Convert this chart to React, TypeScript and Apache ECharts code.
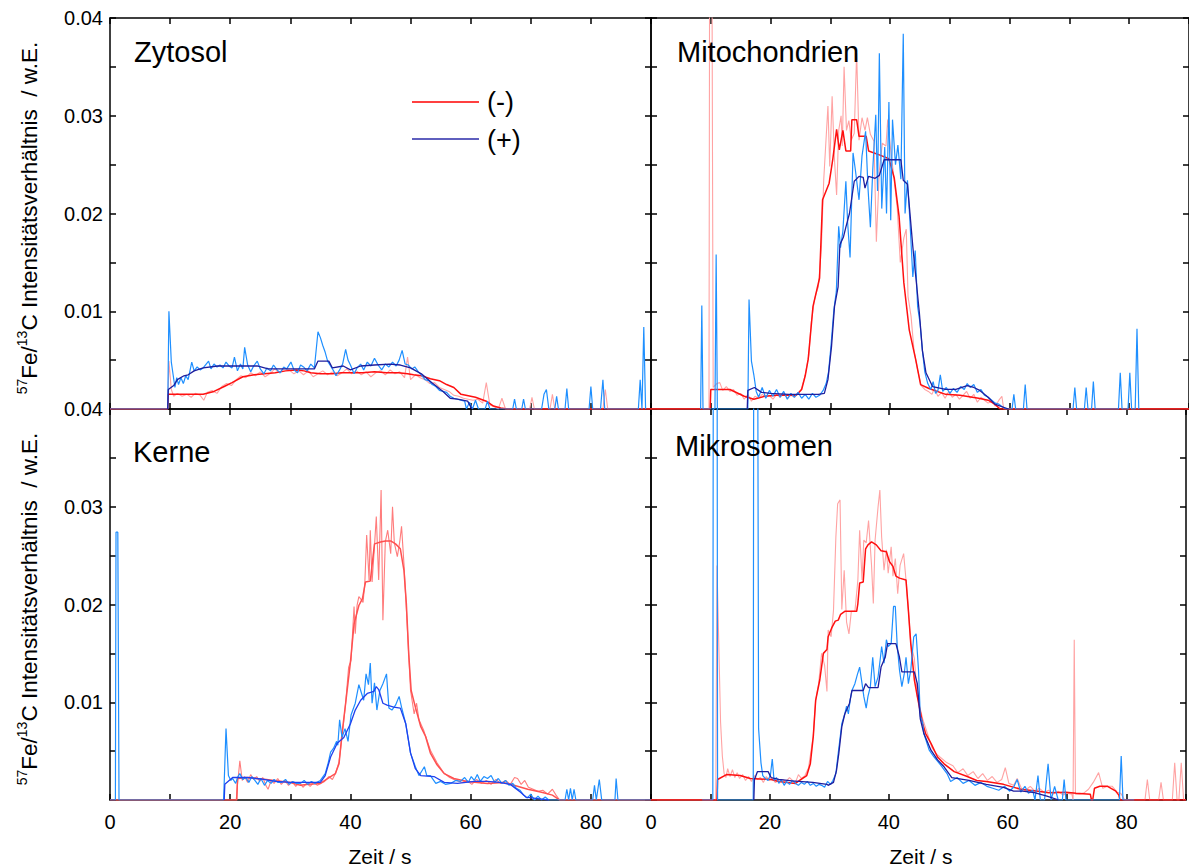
import React, { useEffect, useRef } from 'react';
import * as echarts from 'echarts';

const FONT = '"Liberation Sans", Arial, Helvetica, sans-serif';
// All intensity values below are written in thousandths (x 0.001)
const UNIT = 0.001;

const PANEL_NAMES = ['Zytosol', 'Mitochondrien', 'Kerne', 'Mikrosomen'];
const LEGEND_LABELS = ['(-)', '(+)'];
const X_TITLE = 'Zeit / s';
const X_LABEL_TICKS = [0, 20, 40, 60, 80];
const Y_LABEL_TICKS = [0.01, 0.02, 0.03, 0.04];

// ---------------- Zytosol ----------------
const ZY_MINUS_RAW = [[0,0],[9.6,0],[9.8,4.9],[10.2,2.0],[10.6,1.3],[11.2,1.6],[12,1.3],[12.8,1.5],[13.5,1.2],[14.2,1.6],[15,1.4],[15.6,0.9],[16.2,1.7],[17,1.9],[17.8,1.6],[18.6,2.3],[19.4,2.6],[20.2,2.4],[21,3.0],[21.8,3.4],[22.6,3.2],[23.4,3.7],[24.2,3.4],[25,3.8],[25.8,3.3],[26.6,3.6],[27.4,4.1],[28.2,3.7],[29,4.2],[29.8,4.0],[30.6,3.6],[31.4,3.9],[32.2,3.5],[33,3.9],[33.8,3.3],[34.6,3.6],[35.4,3.9],[36.2,3.5],[37,3.8],[37.8,3.4],[38.6,3.7],[39.4,4.1],[40.2,3.6],[41,3.9],[41.8,3.5],[42.6,3.8],[43.4,3.3],[44.2,3.7],[45,3.9],[45.8,3.5],[46.6,4.0],[47.4,3.6],[48.2,3.8],[49,3.2],[49.5,5.3],[50,3.0],[50.8,3.5],[51.6,3.2],[52.4,3.0],[53.2,2.6],[54,2.7],[54.8,2.2],[55.6,2.0],[56.4,1.8],[57.2,1.4],[58,1.3],[58.8,1.1],[59.6,1.0],[60.4,0.9],[61.2,1.0],[62,0.6],[62.6,2.7],[63.2,0.4],[64,0.2],[64.6,0],[65.2,1.1],[65.8,0],[69.8,0],[70.2,1.2],[70.6,0],[73.2,0],[73.6,1.5],[74,0],[82,0],[82.4,2.0],[82.8,0],[90,0]];
const ZY_MINUS_SMOOTH = [[0,0],[9.6,0],[9.7,1.5],[12,1.5],[15.5,1.5],[17.3,1.8],[19,2.3],[20.3,2.7],[22.1,3.3],[24,3.5],[25.7,3.6],[27.5,3.7],[29.2,3.9],[31,4.0],[32.3,3.9],[33.4,3.7],[35,3.6],[37,3.6],[38.5,3.7],[40,3.7],[42,3.7],[44,3.8],[46,3.7],[48,3.7],[49.5,3.6],[50.5,3.5],[51.8,3.4],[53.3,3.1],[54.8,2.9],[56,2.5],[57.2,2.2],[58.4,1.5],[60.8,1.2],[62.6,0.8],[63.8,0.3],[65,0.1],[66.1,0],[90,0]];
const ZY_PLUS_RAW = [[0,0],[9.6,0],[9.8,10.0],[10.2,4.8],[10.5,3.5],[10.8,2.2],[11.1,3.2],[11.4,2.5],[11.8,3.2],[12.2,2.6],[12.6,3.4],[13.0,3.0],[13.6,4.8],[14.0,3.9],[14.5,4.3],[15.0,4.0],[15.5,4.2],[16.0,4.6],[16.4,4.9],[16.8,4.1],[17.3,4.6],[17.8,4.3],[18.3,4.5],[18.8,4.2],[19.3,4.8],[19.8,4.4],[20.3,4.2],[20.7,5.3],[21.2,3.9],[21.7,4.6],[22.1,4.1],[22.4,6.3],[22.9,4.5],[23.4,3.8],[23.9,4.4],[24.5,4.9],[25,4.1],[25.6,3.6],[26.1,4.2],[26.7,3.9],[27.2,4.5],[27.8,4.0],[28.3,3.7],[28.9,4.3],[29.4,4.1],[30.1,4.8],[30.6,4.0],[31.2,3.7],[31.7,4.5],[32.2,4.3],[32.8,3.9],[33.4,4.6],[34,4.2],[34.6,7.9],[35.0,7.3],[35.4,6.5],[35.8,5.8],[36.2,4.9],[36.7,4.4],[37.2,3.9],[37.6,3.4],[38.2,4.0],[38.7,4.6],[39.2,6.1],[39.6,5.0],[40.0,4.5],[40.6,3.6],[41.1,4.2],[41.7,4.6],[42.2,4.0],[42.8,4.8],[43.4,4.4],[44.0,5.2],[44.6,4.5],[45.2,4.0],[45.8,4.6],[46.4,4.3],[47,4.8],[47.6,4.4],[48.1,5.0],[48.6,6.0],[49.1,4.6],[49.6,4.5],[50.2,4.1],[50.7,4.3],[51.3,3.8],[51.8,3.5],[52.4,3.0],[53,2.9],[53.6,2.5],[54.2,2.3],[54.8,1.9],[55.4,1.8],[56,1.7],[56.6,1.3],[57.2,1.1],[57.8,1.0],[58.4,0.9],[59,0.8],[59.3,0],[59.8,0.7],[60.3,0],[60.8,0.9],[61.3,0],[62.4,0],[62.8,0.8],[63.2,0],[67.0,0],[67.3,1.0],[67.6,0],[68.5,0],[68.8,1.0],[69.1,0],[71.8,0],[72.2,1.5],[72.6,2.0],[73.0,0],[74.0,0],[74.3,1.3],[74.6,0],[75.7,0],[76.0,2.1],[76.3,0],[79.7,0],[80.0,2.3],[80.3,0],[81.6,0],[82.0,3.0],[82.3,0],[87.9,0],[88.2,3.0],[88.5,0],[88.8,8.4],[89.1,0]];
const ZY_PLUS_SMOOTH = [[9.6,0],[9.7,2.0],[10.6,2.4],[11.2,3.0],[12.3,3.4],[13,3.5],[14,3.9],[15.5,4.2],[17.9,4.4],[20,4.4],[24.5,4.4],[26.3,4.1],[30,4.1],[34,4.1],[34.6,4.9],[36.4,4.9],[37,4.2],[38.8,4.4],[40,4.0],[41.7,4.4],[44,4.5],[46.5,4.6],[48.3,4.5],[50,4.2],[51.8,3.6],[53.5,2.7],[55.4,1.8],[56.6,1.1],[57.8,1.0],[59.5,0.8],[60.2,0]];

// ---------------- Mitochondrien ----------------
const MI_MINUS_RAW = [[0,0],[9.7,0],[9.8,45],[10.2,45],[10.4,2.2],[11,2.6],[11.5,2.7],[12,1.9],[12.6,2.3],[13.2,1.8],[13.8,2.0],[14.4,1.4],[15,1.6],[15.6,1.0],[16.2,1.5],[16.8,0.8],[17.4,1.3],[18,1.1],[18.6,1.5],[19.2,1.2],[19.8,1.4],[20.4,1.0],[21,1.5],[21.6,1.2],[22.2,1.6],[22.8,1.1],[23.4,1.4],[24,1.2],[24.6,1.6],[25.2,2.1],[25.8,3.5],[26.4,5.5],[26.8,8.8],[27.3,11.0],[27.6,11.8],[28.0,12.5],[28.5,16.5],[28.9,23.5],[29.6,31.0],[29.9,24.8],[30.3,32.0],[30.7,25.4],[31.05,21.9],[31.4,28.5],[31.8,30.0],[32.0,26.9],[32.3,35.0],[32.7,28.5],[33.1,29.5],[33.5,27.5],[34.0,28.2],[34.4,36.4],[34.8,27.5],[35.3,29.8],[35.8,28.5],[36.2,29.8],[36.7,28.1],[37.3,27.4],[37.7,17.1],[38.2,24.4],[38.7,27.2],[39.3,26.9],[39.6,29.6],[40.1,26.5],[40.6,23.9],[41.2,20.5],[41.7,15.0],[42.3,17.5],[42.7,18.4],[43.0,11.5],[43.5,9.5],[44,6.0],[44.6,4.0],[45.2,2.4],[45.8,2.0],[46.4,1.8],[47,1.5],[47.4,2.1],[48,1.3],[48.6,1.7],[49.2,1.1],[49.8,1.8],[50.4,1.2],[51,1.5],[51.6,1.0],[52.2,1.4],[52.8,1.8],[53.4,1.1],[54,1.5],[54.6,0.7],[55.2,1.2],[55.8,0.9],[56.4,0.6],[57,0.8],[57.6,0.3],[58.2,0.9],[58.7,1.3],[59,0],[90,0]];
const MI_MINUS_SMOOTH = [[0,0],[9.9,0],[10.0,2.0],[13.2,2.0],[15.6,1.3],[17.2,1.0],[19,1.3],[21,1.4],[24.3,1.4],[25.2,2.0],[25.8,3.4],[26.3,5.1],[26.7,7.8],[27.1,10.5],[28.2,13.4],[28.7,21.4],[29.8,23.1],[30.4,25.5],[31.05,28.6],[31.5,26.5],[32.1,28.5],[32.6,26.4],[33.4,26.4],[33.6,29.6],[34.4,29.6],[34.8,27.9],[36,27.9],[36.4,26.4],[38.2,26.0],[39.8,25.6],[40.7,23.6],[41.5,19.7],[42.3,12.9],[43.2,8.1],[44.3,5.0],[45.1,2.5],[46.5,2.1],[49.3,1.5],[51.7,1.4],[54.8,1.1],[56.4,0.9],[57.5,0.5],[58.4,0],[90,0]];
const MI_PLUS_RAW = [[8.3,0],[8.5,10.6],[8.7,0],[10.7,0],[10.9,15.8],[11.1,0],[16.2,0],[16.4,11.2],[16.8,4.9],[17.2,3.5],[17.6,1.8],[18,1.2],[18.6,2.2],[19.2,1.1],[19.8,1.9],[20.4,1.3],[21,2.0],[21.6,1.2],[22.2,1.8],[22.8,1.0],[23.4,1.6],[24,1.2],[24.6,1.7],[25.2,1.1],[25.8,1.5],[26.4,1.0],[27,1.6],[27.6,1.2],[28.2,1.4],[28.8,1.9],[29.3,2.6],[29.7,3.8],[30.1,6.4],[30.6,10.2],[31.0,12.0],[31.4,18.7],[31.7,16.5],[32.1,18.2],[32.6,23.3],[32.9,19.0],[33.3,15.5],[33.8,26.2],[34.2,24.4],[34.8,21.4],[35.3,25.9],[35.9,28.4],[36.3,22.6],[36.7,18.6],[37.1,24.5],[37.6,30.1],[37.9,22.3],[38.2,36.4],[38.6,20.5],[39.1,26.8],[39.4,20.0],[39.8,31.4],[40.1,19.3],[40.4,29.6],[40.9,25.0],[41.3,27.0],[41.8,23.5],[42.2,38.4],[42.5,20.0],[42.9,23.4],[43.3,19.4],[43.8,13.5],[44.2,16.2],[44.6,10.5],[45.0,8.8],[45.4,6.0],[45.8,3.8],[46.3,2.6],[46.8,2.0],[47.2,2.8],[47.6,1.6],[48.0,1.9],[48.4,3.5],[48.8,1.8],[49.4,2.2],[50,1.6],[50.6,2.1],[51.2,1.7],[51.8,2.3],[52.4,2.0],[52.9,2.6],[53.4,2.2],[54,2.5],[54.6,1.7],[55.2,2.0],[55.8,1.4],[56.4,1.2],[57,0.9],[57.6,0.6],[58.2,0.5],[58.8,0.2],[59.4,0],[60.4,0],[60.7,1.5],[61,0],[62.3,0],[62.6,2.5],[62.9,0],[70.6,0],[70.9,2.2],[71.2,0],[72.5,0],[72.8,2.2],[73.1,0],[73.7,0],[74.0,2.8],[74.3,0],[78.2,0],[78.5,3.7],[78.8,0],[79.8,0],[80.1,3.7],[80.4,0],[81.0,0],[81.3,8.2],[81.6,0]];
const MI_PLUS_SMOOTH = [[16.1,0],[16.2,1.9],[17.3,2.2],[18.5,1.7],[20,1.6],[23,1.5],[26,1.5],[28,1.5],[29,1.6],[29.6,3.0],[30.2,6.4],[30.7,10.5],[31.3,12.5],[31.6,16.8],[32.2,17.6],[32.6,18.6],[33.2,20.0],[34,23.3],[34.8,23.8],[35.5,23.7],[35.8,22.6],[36.4,23.8],[37.5,23.6],[38.2,23.9],[39,25.5],[41.8,25.5],[42.2,23.4],[42.9,23.0],[43.8,16.6],[44.3,13.5],[44.9,9.8],[45.4,6.0],[46,3.7],[47.1,2.3],[49.3,2.0],[51,2.0],[52.9,2.4],[54,2.2],[55,1.9],[56.4,1.2],[57.5,0.5],[59.8,0]];

// ---------------- Kerne ----------------
const KE_MINUS_RAW = [[21.0,0],[21.2,1.5],[21.6,4.0],[22,2.0],[22.4,2.4],[22.9,1.8],[23.4,2.6],[23.9,2.1],[24.4,2.4],[24.9,1.9],[25.4,2.3],[26,1.4],[26.3,1.1],[26.8,2.0],[27.3,1.7],[27.9,2.2],[28.5,1.6],[29.1,2.0],[29.7,1.5],[30.3,1.9],[30.9,1.4],[31.5,1.8],[32.1,1.3],[32.7,1.7],[33.3,1.4],[33.9,1.8],[34.5,1.5],[35.1,1.7],[35.7,1.9],[36.4,2.4],[37,2.1],[37.5,2.7],[38.1,3.9],[38.6,6.4],[39.2,9.9],[39.7,13.6],[40.1,14.3],[40.6,19.8],[40.8,17.0],[41.1,19.9],[41.4,20.8],[41.8,20.5],[42.1,20.2],[42.4,22.3],[42.7,27.1],[43.1,22.5],[43.3,27.6],[43.6,22.3],[44,26.0],[44.3,29.0],[44.7,22.5],[45.1,31.7],[45.4,18.4],[45.8,26.4],[46.2,27.6],[46.7,25.2],[47,30.0],[47.3,26.3],[47.8,24.9],[48.2,26.4],[48.5,28.0],[48.9,24.2],[49.4,18.4],[50,11.2],[50.6,8.8],[51,9.9],[51.4,8.2],[52.2,7.1],[53.3,5.1],[54.4,3.8],[55.5,2.8],[56.5,2.3],[57.6,2.0],[58.6,1.8],[59.4,2.0],[60.2,1.6],[61,2.1],[61.8,1.7],[62.6,2.0],[63.4,1.6],[64.2,2.1],[65,1.7],[65.8,2.0],[66.6,1.6],[67.3,2.3],[67.8,2.2],[68.4,1.6],[69,2.0],[69.6,1.3],[70.4,1.1],[71.2,0.9],[72,1.0],[72.8,0.6],[73.6,1.1],[74.2,0.5],[74.8,0]];
const KE_MINUS_SMOOTH = [[0,0],[21.1,0],[21.2,2.2],[23,2.3],[26,2.1],[30,1.8],[31.7,1.5],[33,1.6],[35,1.7],[36.7,2.4],[37.5,2.7],[38.1,3.7],[38.6,6.8],[39.2,9.9],[40,14.1],[40.6,18.0],[41.4,19.9],[42,20.6],[42.5,22.3],[43.3,22.4],[44,26.2],[45,26.4],[45.8,26.5],[46.7,26.5],[47.5,26.2],[48.3,25.7],[48.9,23.5],[49.3,20.1],[49.7,14.9],[50.1,11.2],[50.8,9.5],[51.7,7.5],[52.5,6.5],[53.3,4.8],[54.4,3.6],[55.6,2.7],[57.2,2.2],[59.4,1.9],[62.8,1.7],[65.4,1.8],[67.2,1.5],[69.5,1.1],[71.8,0.8],[73.6,0.5],[74.8,0],[90,0]];
const KE_PLUS_RAW = [[0,0],[0.9,0],[1.0,27.4],[1.3,27.4],[1.5,0],[18.9,0],[19.3,7.3],[19.7,2.5],[20.1,2.0],[20.4,2.2],[20.9,1.7],[21.3,2.4],[21.6,2.7],[22.1,2.1],[22.6,2.3],[23.1,1.8],[23.6,2.4],[24.1,2.0],[24.6,1.6],[25.1,2.2],[25.7,1.5],[26.2,2.0],[26.8,1.7],[27.3,2.1],[27.9,1.8],[28.6,1.8],[29.2,2.1],[29.8,1.6],[30.4,1.9],[31,1.7],[31.7,1.7],[32.3,2.0],[32.9,1.6],[33.5,1.9],[34.1,1.7],[35,2.0],[35.8,2.7],[36.3,3.8],[36.7,4.9],[37.2,5.3],[37.7,6.0],[37.9,5.6],[38.2,8.2],[38.6,6.4],[39.1,7.3],[39.6,6.0],[40.1,8.7],[40.8,9.9],[41.4,11.8],[41.8,11.0],[42.2,10.2],[42.6,12.9],[43,11.8],[43.3,14.0],[43.6,9.9],[44,12.0],[44.4,9.2],[44.9,11.2],[45.4,11.9],[46,12.9],[46.4,9.4],[46.9,9.2],[47.5,9.7],[48.1,10.6],[48.5,9.5],[49.2,7.8],[50,4.8],[50.8,3.4],[51.4,2.5],[52,3.1],[52.3,3.4],[52.7,2.5],[53.3,2.5],[54.2,1.7],[55,1.9],[55.8,1.6],[56.7,1.7],[57.5,2.0],[58.3,1.9],[59,2.3],[59.6,1.8],[60.1,2.4],[60.6,2.0],[61.1,2.6],[61.6,1.9],[62.2,2.4],[62.8,2.2],[63.4,2.5],[64,1.8],[64.6,2.2],[65.2,1.7],[65.8,2.0],[66.4,1.5],[67,1.7],[67.6,1.2],[68.2,1.0],[68.8,0.5],[69.4,0.2],[70,0.6],[70.6,0],[71.2,0.4],[71.8,0],[72.4,0.3],[73,0],[75.7,0],[76.0,1.1],[76.3,0],[76.6,1.2],[76.9,0],[77.2,1.1],[77.5,0],[80.3,0],[80.6,1.5],[80.9,0],[81.4,2.1],[81.8,0],[84.0,0],[84.2,2.2],[84.5,0],[90,0]];
const KE_PLUS_SMOOTH = [[19.0,0],[19.1,1.6],[20.4,2.3],[22.8,2.3],[25.1,2.15],[27.5,1.9],[30,1.8],[33.3,1.8],[35,1.8],[35.8,2.5],[36.7,4.4],[37.8,5.8],[38.9,6.4],[40,7.8],[40.8,9.2],[41.7,10.2],[42.8,10.9],[43.9,11.1],[44.3,11.6],[44.7,11.3],[45.4,9.9],[46.1,9.7],[47.2,9.5],[48.3,9.4],[49.2,7.8],[50,4.8],[50.8,3.2],[51.7,2.5],[53.9,2.4],[55.6,1.8],[57.8,1.7],[60.6,1.9],[62.8,1.9],[64.8,1.8],[66.6,1.6],[68.3,0.8],[69.2,0.3],[71.8,0.1],[73,0]];

// ---------------- Mikrosomen ----------------
const MK_MINUS_RAW = [[0,0],[10.9,0],[11.1,24.0],[11.4,16],[11.7,8],[12.0,4.5],[12.3,2.7],[12.6,2.3],[12.9,3.2],[13.3,2.4],[13.7,3.1],[14.1,2.3],[14.5,2.8],[14.9,2.2],[15.4,2.6],[15.9,2.0],[16.4,2.4],[16.9,1.9],[17.4,2.5],[17.9,2.1],[18.4,2.3],[18.9,1.8],[19.4,2.4],[19.9,2.0],[20.4,2.2],[20.9,1.8],[21.5,2.0],[22.1,2.1],[22.7,1.9],[23.3,2.3],[23.8,2.0],[24.3,1.8],[24.8,2.6],[25.3,2.2],[25.9,2.5],[26.5,3.3],[27.3,6.6],[27.7,10.2],[28.2,11.9],[28.7,15.0],[29.2,13.8],[29.6,11.1],[29.8,17.4],[30.3,16.7],[30.7,19.4],[31.1,26.9],[31.4,30.3],[31.8,30.7],[32.1,19.5],[32.5,23.5],[32.9,18.2],[33.3,17.0],[33.7,19.3],[34.3,19.3],[34.8,22.5],[35.1,27.6],[35.5,22.5],[35.8,26.6],[36.2,26.3],[36.6,28.6],[37.1,24.0],[37.4,20.1],[37.7,26.6],[38.2,30.0],[38.5,31.7],[38.8,26.9],[39.2,23.5],[39.6,25.6],[39.9,23.2],[40.4,25.9],[40.7,22.9],[41.1,24.7],[41.5,21.1],[41.9,24.0],[42.5,25.2],[42.9,22.5],[43.3,19.4],[43.7,16.0],[44.3,14.5],[44.8,10.6],[45.7,8.3],[46.5,6.8],[47.3,5.3],[48.2,4.6],[49.8,3.8],[50.8,3.5],[51.6,2.8],[52.5,3.2],[53.3,2.5],[54.2,2.9],[55,2.2],[55.8,2.7],[56.6,2.0],[57.4,2.4],[58.2,1.8],[59,2.1],[59.6,3.3],[60.2,1.7],[61,1.5],[61.6,2.2],[62.3,1.2],[63,1.0],[63.8,1.4],[64.6,0.9],[65.3,1.2],[66.1,0.8],[66.9,1.0],[67.7,0.6],[68.5,0.9],[69.3,0.5],[70,0.7],[70.8,0.6],[71.0,0],[71.2,16.4],[71.4,0.6],[72.1,0.6],[72.8,0.7],[73.6,1.1],[74.4,1.8],[75.3,2.8],[76,1.2],[76.8,1.4],[77.6,1.4],[78.4,0.8],[79,0.7],[79.7,0],[83.1,0],[83.5,2.1],[83.9,0],[85.4,0],[85.8,1.8],[86.2,0],[87.7,0],[88.1,3.8],[88.5,0],[88.8,0],[89.2,3.8],[89.6,0],[90,0]];
const MK_MINUS_SMOOTH = [[0,0],[11.1,0],[11.2,2.1],[12.7,2.6],[15,2.5],[16.7,2.2],[20.2,2.1],[21.5,1.9],[24.3,1.7],[25,2.0],[26.2,2.5],[26.8,3.7],[27.3,6.5],[27.7,10.2],[28.4,12.3],[29,15.0],[29.6,15.4],[29.8,16.7],[30.4,17.6],[31,18.3],[31.5,18.4],[31.9,19.0],[32.6,19.3],[34.6,19.3],[34.8,20.1],[35.1,22.2],[35.7,22.3],[36.1,25.7],[36.5,26.1],[37.1,26.4],[37.9,26.1],[38.7,25.5],[39.6,25.4],[40.1,24.4],[40.7,23.9],[41.2,22.9],[41.8,22.7],[42.9,22.5],[43.3,19.4],[43.7,16.0],[44.3,12.3],[44.8,10.6],[45.7,7.8],[46.2,6.8],[47.1,5.8],[48.2,4.4],[49.3,3.7],[51,2.9],[53.2,2.4],[54.8,2.0],[56.4,1.9],[59.3,1.6],[62.2,1.1],[65.1,0.9],[66.9,0.75],[69.8,0.8],[71.5,0.7],[73.9,0.6],[74.1,0],[74.3,0],[74.6,1.2],[75.5,1.4],[76.8,1.4],[78.2,0.9],[78.7,0.5],[78.9,0],[90,0]];
const MK_PLUS_RAW = [[8.6,0],[10.4,0],[10.5,60],[11.1,60],[11.2,0],[17.2,0],[17.3,60],[17.9,60],[18.1,7.3],[18.5,3.8],[18.8,2.5],[19.2,2.2],[19.7,2.0],[20.1,2.6],[20.4,4.2],[20.7,2.0],[21.1,2.3],[21.5,1.7],[21.9,2.1],[22.4,1.5],[22.8,1.9],[23.3,1.6],[23.8,2.0],[24.3,1.7],[24.8,1.5],[25.3,1.8],[25.8,1.6],[26.3,1.9],[26.8,1.5],[27.3,1.7],[27.8,1.4],[28.3,1.6],[28.7,1.5],[29.2,1.3],[29.7,1.9],[30.2,1.6],[30.6,2.0],[31.1,2.7],[31.5,4.8],[32.1,7.8],[32.6,8.8],[32.9,9.6],[33.2,8.8],[33.5,10.2],[33.8,11.2],[34.3,11.9],[34.7,12.8],[35.1,13.6],[35.5,11.9],[35.8,10.6],[36.2,9.4],[36.5,10.6],[36.9,11.6],[37.3,14.6],[37.7,11.6],[38.2,12.6],[38.6,14.6],[38.8,15.7],[39.2,14.0],[39.6,16.4],[39.9,15.7],[40.4,16.0],[40.8,19.8],[41.1,19.8],[41.4,16.0],[41.8,13.3],[42.2,11.6],[42.6,12.9],[42.9,14.6],[43.3,11.9],[43.7,13.3],[44.2,16.7],[44.6,17.0],[45,13.3],[45.3,8.6],[45.7,7.9],[45.9,6.8],[46.8,5.1],[47.6,4.4],[48.7,3.6],[49.8,2.7],[50.4,1.9],[51.5,2.3],[52.5,1.7],[53.5,2.0],[54.5,1.5],[55.5,1.8],[56.5,1.4],[57.5,1.2],[58.5,1.0],[59.5,1.4],[60.3,0.9],[61,1.3],[61.6,2.1],[62.2,0.8],[62.9,1.4],[63.5,0.7],[64.2,1.0],[64.6,0],[65.1,2.5],[65.5,0],[66.2,0],[66.8,3.7],[67.3,0],[67.9,1.4],[68.5,0],[69.2,0],[69.5,2.1],[69.8,0],[78.8,0],[79.1,4.5],[79.4,0],[81.3,0]];
const MK_PLUS_SMOOTH = [[17.3,0],[17.4,2.1],[17.9,2.9],[19.7,2.9],[20.2,2.3],[21.5,2.1],[23.7,1.95],[27.2,1.8],[29.6,1.6],[29.8,1.5],[30.7,1.8],[31.2,3.0],[31.6,4.8],[32.1,7.5],[32.6,8.8],[33.4,9.9],[33.8,11.2],[35.7,11.2],[36.1,11.9],[36.6,11.5],[38.2,11.5],[38.7,13.6],[39.4,14.6],[39.8,16.0],[41.2,16.0],[41.8,14.6],[42.2,13.1],[44.3,13.1],[44.8,11.9],[45.3,8.3],[45.9,6.8],[47.1,5.1],[48.2,4.1],[49.3,3.4],[50.6,2.3],[53.5,2.0],[56.4,1.6],[59.3,1.3],[61,0.9],[62.5,0.9],[64.5,0.75],[66.6,0.4],[68.6,0]];

const toValues = (arr: number[][]) => arr.map(([t, v]) => [t, v * UNIT]);

const PANELS = [
  { name: PANEL_NAMES[0], grid: { left: 110, top: 18, width: 541, height: 391 }, label: [134, 52], yLabels: true, xLabels: false,
    colors: ['#FFA3A3', '#FF1010', '#1E8FFF', '#1E1E9E'], data: [ZY_MINUS_RAW, ZY_MINUS_SMOOTH, ZY_PLUS_RAW, ZY_PLUS_SMOOTH] },
  { name: PANEL_NAMES[1], grid: { left: 651, top: 18, width: 540, height: 391 }, label: [677, 52], yLabels: false, xLabels: false,
    colors: ['#FFA3A3', '#FF1010', '#1E8FFF', '#1E1E9E'], data: [MI_MINUS_RAW, MI_MINUS_SMOOTH, MI_PLUS_RAW, MI_PLUS_SMOOTH] },
  { name: PANEL_NAMES[2], grid: { left: 110, top: 409, width: 541, height: 391 }, label: [133, 452], yLabels: true, xLabels: true,
    colors: ['#FF7C7C', '#FF5050', '#1E8FFF', '#2040EE'], data: [KE_MINUS_RAW, KE_MINUS_SMOOTH, KE_PLUS_RAW, KE_PLUS_SMOOTH] },
  { name: PANEL_NAMES[3], grid: { left: 651, top: 409, width: 540, height: 391 }, label: [675, 446], yLabels: false, xLabels: true,
    colors: ['#FFA3A3', '#FF1010', '#1E8FFF', '#1E1E9E'], data: [MK_MINUS_RAW, MK_MINUS_SMOOTH, MK_PLUS_RAW, MK_PLUS_SMOOTH] },
];

const LINE_WIDTHS = [1.1, 1.5, 1.2, 1.3];

export default function App() {
  const ref = useRef<HTMLDivElement>(null);
  useEffect(() => {
    if (!ref.current) return;
    const chart = echarts.init(ref.current, undefined, { renderer: 'svg' });
    const axisLine = { show: true, onZero: false, lineStyle: { color: '#000', width: 1.5 } };
    const axisTick = { show: true, inside: true, length: 6, lineStyle: { color: '#000', width: 1.5 } };
    const grids: any[] = [];
    const xAxes: any[] = [];
    const yAxes: any[] = [];
    const series: any[] = [];
    const graphics: any[] = [];
    PANELS.forEach((p, i) => {
      grids.push({ ...p.grid, containLabel: false });
      ['bottom', 'top'].forEach((pos, k) => {
        xAxes.push({
          type: 'value', gridIndex: i, position: pos, min: 0, max: 90, interval: 10,
          axisLine, axisTick, splitLine: { show: false },
          axisLabel: {
            show: k === 0 && p.xLabels, margin: 12, color: '#000', fontSize: 20, fontFamily: FONT,
            formatter: (v: number) => (X_LABEL_TICKS.includes(v) ? String(v) : ''),
          },
        });
      });
      ['left', 'right'].forEach((pos, k) => {
        yAxes.push({
          type: 'value', gridIndex: i, position: pos, min: 0, max: 0.04, interval: 0.005,
          axisLine, axisTick, splitLine: { show: false },
          axisLabel: {
            show: k === 0 && p.yLabels, margin: 7, color: '#000', fontSize: 20, fontFamily: FONT,
            formatter: (v: number) => {
              const hit = Y_LABEL_TICKS.find((t) => Math.abs(t - v) < 1e-9);
              return hit !== undefined ? hit.toFixed(2) : '';
            },
          },
        });
      });
      p.data.forEach((arr, s) => {
        series.push({
          type: 'line', xAxisIndex: 2 * i, yAxisIndex: 2 * i, data: toValues(arr),
          showSymbol: false, symbol: 'none', clip: true, silent: true,
          lineStyle: { color: p.colors[s], width: LINE_WIDTHS[s] },
          z: 2 + s,
        });
      });
      graphics.push({
        type: 'text', x: p.label[0], y: p.label[1], z: 100,
        style: { text: p.name, fontSize: 29, fontFamily: FONT, fill: '#000', align: 'left', verticalAlign: 'middle' },
      });
    });
    // legend
    graphics.push(
      { type: 'line', shape: { x1: 412, y1: 102, x2: 479, y2: 102 }, style: { stroke: '#FF0000', lineWidth: 1.5 }, z: 100 },
      { type: 'line', shape: { x1: 412, y1: 139, x2: 479, y2: 139 }, style: { stroke: '#2A2AA8', lineWidth: 1.5 }, z: 100 },
      { type: 'text', x: 487, y: 102, z: 100, style: { text: LEGEND_LABELS[0], fontSize: 27, fontFamily: FONT, fill: '#000', verticalAlign: 'middle' } },
      { type: 'text', x: 487, y: 140, z: 100, style: { text: LEGEND_LABELS[1], fontSize: 27, fontFamily: FONT, fill: '#000', verticalAlign: 'middle' } },
    );
    // axis titles
    const yTitle = '{s|57}{n|Fe/}{s|13}{n|C Intensitätsverhältnis  / w.E.}';
    const rich = {
      n: { fontSize: 22.5, lineHeight: 26, fontFamily: FONT, fill: '#000', verticalAlign: 'bottom' },
      s: { fontSize: 14, lineHeight: 15, fontFamily: FONT, fill: '#000', verticalAlign: 'top' },
    };
    [218, 609].forEach((cy) => {
      graphics.push({
        type: 'text', x: 28, y: cy, rotation: Math.PI / 2, z: 100,
        style: { text: yTitle, rich, align: 'center', verticalAlign: 'middle', fill: '#000', fontFamily: FONT, fontSize: 22.5 },
      });
    });
    [380, 921].forEach((cx) => {
      graphics.push({
        type: 'text', x: cx, y: 856, z: 100,
        style: { text: X_TITLE, fontSize: 21, fontFamily: FONT, fill: '#000', align: 'center', verticalAlign: 'middle' },
      });
    });

    chart.setOption({
      animation: false,
      backgroundColor: '#fff',
      grid: grids,
      xAxis: xAxes,
      yAxis: yAxes,
      series,
      graphic: graphics,
    });
    return () => chart.dispose();
  }, []);
  return <div ref={ref} style={{ position: 'absolute', left: 0, top: 0, width: 1189, height: 868 }} />;
}
